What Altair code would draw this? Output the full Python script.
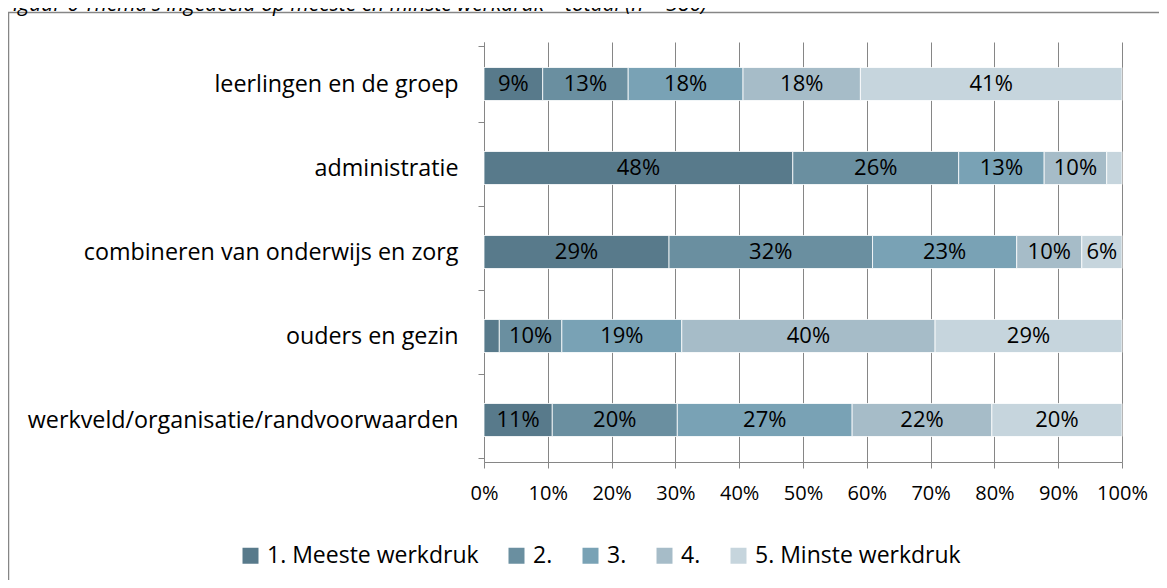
import altair as alt
import pandas as pd

categories = [
    "leerlingen en de groep",
    "administratie",
    "combineren van onderwijs en zorg",
    "ouders en gezin",
    "werkveld/organisatie/randvoorwaarden",
]
series = ["1. Meeste werkdruk", "2.", "3.", "4.", "5. Minste werkdruk"]
s1 = [9.2, 48.4, 29.0, 2.4, 10.7]
s2 = [13.4, 26.0, 31.9, 9.8, 19.6]
s3 = [18.0, 13.4, 22.6, 18.8, 27.4]
s4 = [18.4, 9.8, 10.2, 39.7, 21.9]
s5 = [41.0, 2.4, 6.3, 29.3, 20.4]
colors = ["#587a8b", "#6a8fa0", "#79a2b5", "#a6bcc8", "#c6d5dd"]
x_ticks = [0, 10, 20, 30, 40, 50, 60, 70, 80, 90, 100]
title_text = "Figuur 6 Thema's ingedeeld op meeste en minste werkdruk \u2013 totaal (n = 386)"

FONT = "Open Sans"
FS_CAT = 23.3
FS_LEG = 23
FS_NUM = 20
FS_BAR = 22

rows = []
for k, (name, vals) in enumerate(zip(series, [s1, s2, s3, s4, s5])):
    for cat, v in zip(categories, vals):
        rows.append({"category": cat, "series": name, "k": k, "value": v})
df = pd.DataFrame(rows)

W, H = 638, 420

y_enc = alt.Y(
    "category:N",
    sort=categories,
    title=None,
    axis=alt.Axis(
        tickBand="extent",
        tickSize=6,
        tickColor="#868686",
        domainColor="#868686",
        labelPadding=20,
        labelFont=FONT,
        labelFontSize=FS_CAT,
        labelColor="#000000",
        labelLimit=600,
        grid=False,
    ),
)
x_scale = alt.Scale(domain=[0, 100], nice=False)

base = alt.Chart(df)

bars = base.mark_bar(size=33, stroke="white", strokeWidth=0.8).encode(
    x=alt.X(
        "value:Q",
        stack="zero",
        scale=x_scale,
        title=None,
        axis=alt.Axis(
            values=x_ticks,
            labelExpr="datum.value + '%'",
            labelOverlap=False,
            labelFlush=False,
            grid=True,
            gridColor="#868686",
            tickColor="#868686",
            domainColor="#868686",
            tickSize=6,
            labelPadding=15,
            labelFont=FONT,
            labelFontSize=FS_NUM,
            labelColor="#000000",
        ),
    ),
    y=y_enc,
    color=alt.Color(
        "series:N",
        scale=alt.Scale(domain=series, range=colors),
        legend=alt.Legend(
            title=None,
            orient="none",
            direction="horizontal",
            legendX=-245,
            legendY=502,
            symbolType="square",
            symbolSize=256,
            symbolStrokeWidth=0,
            labelFont=FONT,
            labelFontSize=FS_LEG,
            labelColor="#000000",
            labelOffset=5,
            columnPadding=26,
            labelLimit=400,
        ),
    ),
    order=alt.Order("k:Q", sort="ascending"),
)

labels = (
    base.transform_window(
        cum="sum(value)",
        groupby=["category"],
        sort=[alt.SortField("k", order="ascending")],
        frame=[None, 0],
    )
    .transform_calculate(
        mid="datum.cum - datum.value / 2",
        lab="format(datum.value, '.0f') + '%'",
    )
    .transform_filter("datum.value >= 5")
    .mark_text(font=FONT, fontSize=FS_BAR, color="#000000", baseline="middle")
    .encode(x=alt.X("mid:Q", scale=x_scale), y=alt.Y("category:N", sort=categories), text="lab:N")
)

one = pd.DataFrame({"a": [0]})
frame = alt.Chart(one).mark_rect(fill="transparent", stroke="#868686", strokeWidth=1.5).encode(
    x=alt.value(-475.5), x2=alt.value(720), y=alt.value(-29.5), y2=alt.value(620)
)
title = alt.Chart(one).mark_text(
    font=FONT, fontSize=21, fontStyle="italic", color="#000000", align="left", baseline="alphabetic"
).encode(x=alt.value(-481), y=alt.value(-31), text=alt.value(title_text))

chart = (
    alt.layer(frame, title, bars, labels)
    .properties(
        width=W,
        height=H,
        autosize=alt.AutoSizeParams(type="none"),
        padding={"left": 476, "top": 34, "right": 37, "bottom": 118},
    )
    .configure_view(stroke="transparent")
)

chart.save("out.html", embed_options={"renderer": "svg", "actions": False})
